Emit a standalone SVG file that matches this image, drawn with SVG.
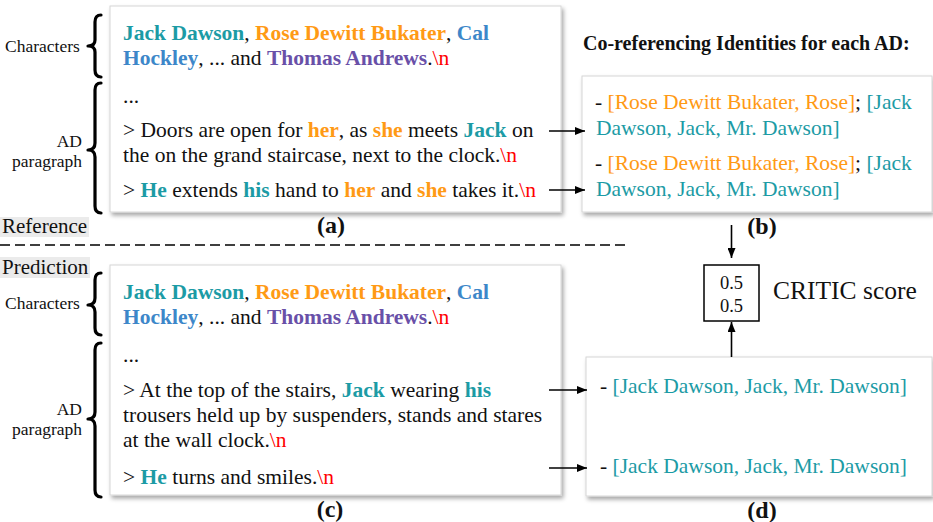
<svg xmlns="http://www.w3.org/2000/svg" width="933" height="522" viewBox="0 0 933 522">
<defs>
<filter id="sh" x="-5%" y="-5%" width="110%" height="115%">
<feDropShadow dx="2" dy="3" stdDeviation="2" flood-color="#000" flood-opacity="0.35"/>
</filter>
<marker id="ah" viewBox="0 0 10 8" refX="10" refY="4" markerWidth="10" markerHeight="8" markerUnits="userSpaceOnUse" orient="auto">
<path d="M0,0 L10,4 L0,8 Z" fill="#000"/>
</marker>
<style>
text{font-family:"Liberation Serif","Times New Roman",serif;fill:#111}
.m{font-size:21.5px}
.lb{font-size:17.5px}
.b{font-weight:bold}
.t{fill:#1c9ba5}
.o{fill:#ff9a15}
.bl{fill:#3d87c9}
.p{fill:#6950a8}
.r{fill:#ff0000}
.box{fill:#fff;stroke:#d6d6d6;stroke-width:1;filter:url(#sh)}
.brace{fill:none;stroke:#000;stroke-width:3.2;stroke-linecap:round;stroke-linejoin:round}
.cap{font-size:24px;font-weight:bold}
.conn line{stroke:#000;stroke-width:1.6}
</style>
</defs>
<rect width="933" height="522" fill="#fff"/>

<g id="labels">
<rect x="0" y="217" width="89" height="20" fill="#ebebeb"/>
<text x="2" y="233" style="font-size:21px">Reference</text>
<rect x="0" y="257" width="90" height="21" fill="#ebebeb"/>
<text x="2" y="274" style="font-size:21px">Prediction</text>
<line x1="0" y1="245" x2="630" y2="245" stroke="#000" stroke-width="1.4" stroke-dasharray="10,5"/>
</g>

<g id="braces">
<text class="lb" x="5" y="52">Characters</text>
<path class="brace" d="M101,15 Q95,15 95,22 L95,40 Q95,46 88,46 Q95,46 95,52 L95,70 Q95,77 101,77"/>
<text class="lb" x="82" y="147" text-anchor="end">AD</text>
<text class="lb" x="82" y="167" text-anchor="end">paragraph</text>
<path class="brace" d="M101,83 Q95,83 95,90 L95,143 Q95,150 88,150 Q95,150 95,157 L95,206 Q95,213 101,213"/>
<text class="lb" x="5" y="309">Characters</text>
<path class="brace" d="M101,273 Q95,273 95,280 L95,298 Q95,305 88,305 Q95,305 95,312 L95,328 Q95,335 101,335"/>
<text class="lb" x="82" y="415" text-anchor="end">AD</text>
<text class="lb" x="82" y="435" text-anchor="end">paragraph</text>
<path class="brace" d="M101,343 Q95,343 95,350 L95,412 Q95,419 88,419 Q95,419 95,426 L95,490 Q95,497 101,497"/>
</g>

<g id="node-a">
<rect class="box" x="110" y="6" width="451" height="206"/>
<text class="m" x="123" y="40"><tspan class="b t">Jack Dawson</tspan>, <tspan class="b o">Rose Dewitt Bukater</tspan>, <tspan class="b bl">Cal</tspan></text>
<text class="m" x="123" y="65"><tspan class="b bl">Hockley</tspan>, ... and <tspan class="b p">Thomas Andrews</tspan>.<tspan class="r">\n</tspan></text>
<text class="m" x="123" y="103">...</text>
<text class="m" x="123" y="137">&gt; Doors are open for <tspan class="b o">her</tspan>, as <tspan class="b o">she</tspan> meets <tspan class="b t">Jack</tspan> on</text>
<text class="m" x="123" y="162">the on the grand staircase, next to the clock.<tspan class="r">\n</tspan></text>
<text class="m" x="123" y="197">&gt; <tspan class="b t">He</tspan> extends <tspan class="b t">his</tspan> hand to <tspan class="b o">her</tspan> and <tspan class="b o">she</tspan> takes it.<tspan class="r">\n</tspan></text>
<text class="cap" x="331" y="233" text-anchor="middle">(a)</text>
</g>

<g id="node-b">
<text x="583" y="50" style="font-size:20px;font-weight:bold">Co-referencing Identities for each AD:</text>
<rect class="box" x="582" y="76" width="350" height="136"/>
<text class="m" x="595" y="109">- <tspan class="o">[Rose Dewitt Bukater, Rose]</tspan>; <tspan class="t">[Jack</tspan></text>
<text class="m t" x="596" y="135">Dawson, Jack, Mr. Dawson]</text>
<text class="m" x="595" y="170">- <tspan class="o">[Rose Dewitt Bukater, Rose]</tspan>; <tspan class="t">[Jack</tspan></text>
<text class="m t" x="596" y="196">Dawson, Jack, Mr. Dawson]</text>
<text class="cap" x="762" y="234" text-anchor="middle">(b)</text>
</g>

<g id="node-c">
<rect class="box" x="110" y="265" width="451" height="230"/>
<text class="m" x="123" y="299"><tspan class="b t">Jack Dawson</tspan>, <tspan class="b o">Rose Dewitt Bukater</tspan>, <tspan class="b bl">Cal</tspan></text>
<text class="m" x="123" y="324"><tspan class="b bl">Hockley</tspan>, ... and <tspan class="b p">Thomas Andrews</tspan>.<tspan class="r">\n</tspan></text>
<text class="m" x="123" y="362">...</text>
<text class="m" x="123" y="397">&gt; At the top of the stairs, <tspan class="b t">Jack</tspan> wearing <tspan class="b t">his</tspan></text>
<text class="m" x="123" y="422">trousers held up by suspenders, stands and stares</text>
<text class="m" x="123" y="447">at the wall clock.<tspan class="r">\n</tspan></text>
<text class="m" x="123" y="484">&gt; <tspan class="b t">He</tspan> turns and smiles.<tspan class="r">\n</tspan></text>
<text class="cap" x="330" y="517" text-anchor="middle">(c)</text>
</g>

<g id="node-d">
<rect class="box" x="586" y="357" width="346" height="139"/>
<text class="m" x="600" y="393">- <tspan class="t">[Jack Dawson, Jack, Mr. Dawson]</tspan></text>
<text class="m" x="600" y="473">- <tspan class="t">[Jack Dawson, Jack, Mr. Dawson]</tspan></text>
<text class="cap" x="762" y="518" text-anchor="middle">(d)</text>
</g>

<g id="node-score">
<rect x="704" y="265" width="55" height="56" fill="#fff" stroke="#000" stroke-width="1.5"/>
<text x="731.5" y="289" text-anchor="middle" style="font-size:18.5px">0.5</text>
<text x="731.5" y="312" text-anchor="middle" style="font-size:18.5px">0.5</text>
<text x="773" y="299" style="font-size:25.5px">CRITIC score</text>
</g>

<g id="connectors" class="conn">
<line x1="549" y1="131" x2="585" y2="131" marker-end="url(#ah)"/>
<line x1="549" y1="190" x2="585" y2="190" marker-end="url(#ah)"/>
<line x1="549" y1="390" x2="587" y2="390" marker-end="url(#ah)"/>
<line x1="549" y1="468" x2="587" y2="468" marker-end="url(#ah)"/>
<line x1="731.5" y1="225" x2="731.5" y2="258" marker-end="url(#ah)"/>
<line x1="731.5" y1="357" x2="731.5" y2="322" marker-end="url(#ah)"/>
</g>
</svg>
